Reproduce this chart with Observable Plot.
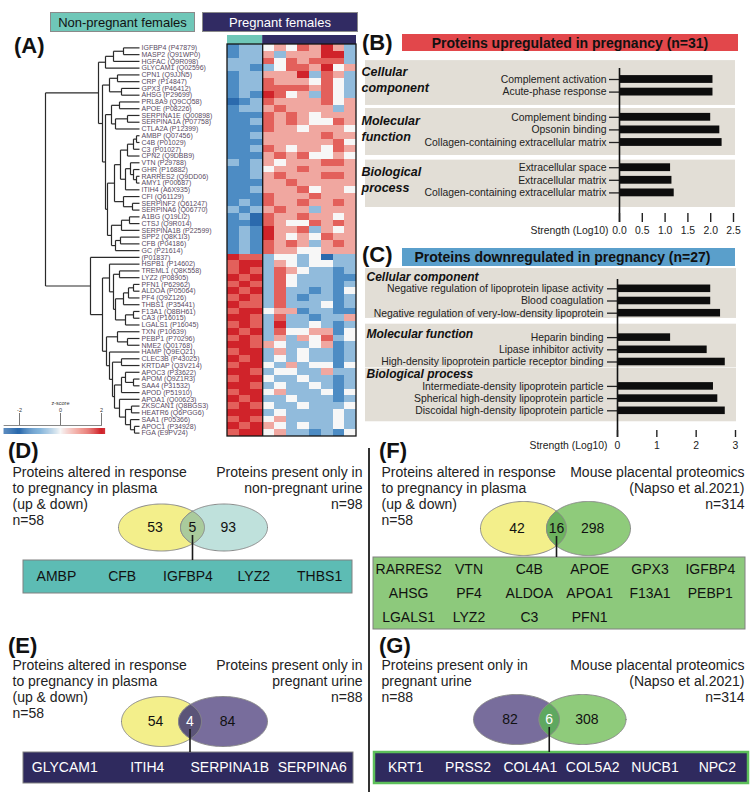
<!DOCTYPE html>
<html><head><meta charset="utf-8">
<script src="https://cdn.jsdelivr.net/npm/d3@7"></script>
<script src="https://cdn.jsdelivr.net/npm/@observablehq/plot@0.6"></script>
<style>
body{margin:0;background:#fff;font-family:'Liberation Sans',Arial,Helvetica,sans-serif;}
#fig{position:relative;width:756px;height:796px;overflow:hidden;background:#fff;}
#fig svg{max-width:none;}
</style></head>
<body><div id="fig"></div>
<script>
// ---------------- DATA ----------------
const sampleGroups = ["Non-pregnant females", "Pregnant females"];
const sampleCounts = [3, 8];
const genes = ["IGFBP4","MASP2","HGFAC","GLYCAM1","CPN1","CRP","GPX3","AHSG","PRL8A9","APOE","SERPINA1E","SERPINA1A","CTLA2A","AMBP","C4B","C3","CPN2","VTN","GHR","RARRES2","AMY1","ITIH4","CFI","SERPINF2","SERPINA6","A1BG","CTSJ","SERPINA1B","SPP2","CFB","GC","","HSPB1","TREML1","LYZ2","PFN1","ALDOA","PF4","THBS1","F13A1","CA3","LGALS1","TXN","PEBP1","NME2","HAMP","CLEC3B","KRTDAP","APOC3","APOM","SAA4","APOD","APOA1","ZKSCAN1","HEATR6","SAA1","APOC1","FGA"];
const accessions = ["P47879","Q91WP0","Q9R098","Q02596","Q9JJN5","P14847","P46412","P29699","Q9CQ58","P08226","Q00898","P07758","P12399","Q07456","P01029","P01027","Q9DBB9","P29788","P16882","Q9DD06","P00687","A6X935","Q61129","Q61247","Q06770","Q19LI2","Q9R014","P22599","Q8K1I3","P04186","P21614","P01837","P14602","Q8K558","P08905","P62962","P05064","Q9Z126","P35441","Q8BH61","P16015","P16045","P10639","P70296","Q01768","Q9EQ21","P43025","Q3V214","P33622","Q9Z1R3","P31532","P51910","Q00623","Q8BGS3","Q6PGG6","P05366","P34928","E9PV24"];
// z-score levels per row: 0 = -2 ... 3 = 0 ... 6 = +2 (3 non-pregnant + 8 pregnant columns)
const heatRows = [
"12234354642","12242444662","22253545552","22123554634","12244462542","12254443532","12255554532","12165342532",
"01254444534","12245444424","11154543444","11254543354","11154434443","11244444544","11144444453","11254344354",
"11145453343","21243444554","11234454444","11245444554","11144544444","11244453443","11154445444","12154454454",
"21245442444","12054454434","11054335454","12164452434","12164343544","12154542454","12154433444",
"65523323022","56624323322","56525432212","65625322211","56525322212","65625221213","56525212212","65525222312",
"56634412211","66525221224","56526223212","65625334413","56524243523","66543223412","56624232212","65623232212",
"56632423313","66523322422","56632232212","66523223212","56634222313","65622322212","56532232223","66623222232",
"56534222232","65643232232","56634221213"];
const tree =
[94,
  [41,
    [34, [26, [16, "IGFBP4", "MASP2"], "HGFAC"], "GLYCAM1"],
    [37,
      [30, [22, "CPN1", "CRP"], [18, "GPX3", "AHSG"]],
      [34,
        [28, [20, "PRL8A9", "APOE"], [24, [12, "SERPINA1E", "SERPINA1A"], "CTLA2A"]],
        [32,
          [25,
            [19,
              [12, [6, [3, "AMBP", "C4B"], "C3"], "CPN2"],
              [14, [9, "VTN", [6, "GHR", [3, "RARRES2", "AMY1"]]], "ITIH4"]
            ],
            [16, "CFI", [7, "SERPINF2", "SERPINA6"]]
          ],
          [28, [18, [10, "A1BG", "CTSJ"], "SERPINA1B"], [24, [19, "SPP2", "CFB"], "GC"]]
        ]
      ]
    ]
  ],
  [49, "P01837",
    [37,
      [30, "HSPB1", [26, [20, "TREML1", "LYZ2"], [24, [16, [11, [6, "PFN1", "ALDOA"], "PF4"], "THBS1"], [14, [6, "F13A1", "CA3"], "LGALS1"]]]],
      [33,
        [22, "TXN", [12, "PEBP1", "NME2"]],
        [30, "HAMP", [27, [18, "CLEC3B", "KRTDAP"], [25, [18, [14, "APOC3", [6, "APOM", "SAA4"]], "APOD"], [20, "APOA1", [14, [8, "ZKSCAN1", "HEATR6"], [9, "SAA1", [5, "APOC1", "FGA"]]]]]]]
      ]
    ]
  ]
];
const legendTicks = [-2, 0, 2];

const upTitle = "Proteins upregulated in pregnancy  (n=31)";
const upGroups = ["Cellular\ncomponent", "Molecular\nfunction", "Biological\nprocess"];
const upTerms = ["Complement activation","Acute-phase response","Complement binding","Opsonin binding","Collagen-containing extracellular matrix","Extracellular space","Extracellular matrix","Collagen-containing extracellular matrix"];
const upGroupOf = [0,0,1,1,1,2,2,2];
const upStrength = [2.05,2.05,2.0,2.2,2.25,1.12,1.15,1.2];
const upTicks = [0,0.5,1,1.5,2,2.5];

const downTitle = "Proteins downregulated in pregnancy  (n=27)";
const downGroups = ["Cellular component", "Molecular function", "Biological process"];
const downTerms = ["Negative regulation of lipoprotein lipase activity","Blood coagulation","Negative regulation of very-low-density lipoprotein","Heparin binding","Lipase inhibitor activity","High-density lipoprotein particle receptor binding","Intermediate-density lipoprotein particle","Spherical high-density lipoprotein particle","Discoidal high-density lipoprotein particle"];
const downGroupOf = [0,0,0,1,1,1,2,2,2];
const downStrength = [2.37,2.37,2.62,1.35,2.28,2.74,2.44,2.55,2.74];
const downTicks = [0,1,2,3];
const axisTitle = "Strength (Log10)";

const plasmaLabel = ["Proteins altered in response","to pregnancy in plasma","(up & down)","n=58"];
const nonPregUrineLabel = ["Proteins present only in","non-pregnant urine","n=98"];
const pregUrineLabel = ["Proteins present only in","pregnant urine","n=88"];
const placentaLabel = ["Mouse placental proteomics","(Napso et al.2021)","n=314"];
const countsD = [53, 5, 93];
const countsE = [54, 4, 84];
const countsF = [42, 16, 298];
const countsG = [82, 6, 308];
const membersD = ["AMBP","CFB","IGFBP4","LYZ2","THBS1"];
const membersE = ["GLYCAM1","ITIH4","SERPINA1B","SERPINA6"];
const membersF = ["RARRES2","VTN","C4B","APOE","GPX3","IGFBP4","AHSG","PF4","ALDOA","APOA1","F13A1","PEBP1","LGALS1","LYZ2","C3","PFN1"];
const membersG = ["KRT1","PRSS2","COL4A1","COL5A2","NUCB1","NPC2"];

// ---------------- HELPERS ----------------
const FONT = "'Liberation Sans', Arial, Helvetica, sans-serif";
const fig = document.getElementById("fig");
function place(node, left, top) {
  node.style.position = "absolute"; node.style.left = left + "px"; node.style.top = top + "px";
  node.style.background = "transparent"; node.style.overflow = "visible";
  fig.appendChild(node); return node;
}
function box(text, css) {
  const d = document.createElement("div"); d.textContent = text;
  d.style.cssText = "position:absolute;display:flex;align-items:center;justify-content:center;box-sizing:border-box;white-space:nowrap;" + css;
  fig.appendChild(d); return d;
}
const baseStyle = {fontFamily: FONT, background: "transparent", overflow: "visible"};
const heatColor = {type: "linear", domain: [-2, -1, 0, 1, 2], range: ["#2b6aad", "#5e9dcf", "#f7f7f7", "#ec7f74", "#d0232a"], interpolate: "rgb"};

// ---------------- TOP LEGEND + PANEL LABELS ----------------
box(sampleGroups[0], "left:50px;top:12px;width:145px;height:20px;background:#6fc7b8;border:1px solid #8a8a8a;font-size:13px;color:#111;");
box(sampleGroups[1], "left:202px;top:12px;width:156px;height:20px;background:#312b63;border:1px solid #8a8a8a;font-size:13px;color:#fff;");
[["(A)",14,35],["(B)",362,32],["(C)",362,244],["(D)",8,440],["(E)",8,635],["(F)",379,440],["(G)",379,635]].forEach(([t,l,tp]) =>
  box(t, `left:${l}px;top:${tp}px;font-size:22px;font-weight:bold;color:#111;line-height:22px;justify-content:flex-start;`));
box("", "left:368px;top:448px;width:1.6px;height:344px;background:#333;");

// ---------------- PANEL A ----------------
const rows = genes.map((g, i) => ({row: i, key: g || accessions[i], label: g ? `${g} (${accessions[i]})` : `(${accessions[i]})`}));
const rowOf = new Map(rows.map(r => [r.key, r.row]));
const segs = [];
function walk(node) {
  if (typeof node === "string") return {y: rowOf.get(node) + 0.5, h: 0};
  const [h, a, b] = node;
  const A = walk(a), B = walk(b);
  segs.push({x1: h, y1: A.y, x2: h, y2: B.y});
  segs.push({x1: h, y1: A.y, x2: A.h, y2: A.y});
  segs.push({x1: h, y1: B.y, x2: B.h, y2: B.y});
  return {y: (A.y + B.y) / 2, h};
}
walk(tree);
const nRows = rows.length, nCols = d3.sum(sampleCounts);
const heatTop = 35, heatHeaderPx = 9, heatH = 401;
const rowPx = (heatH - heatHeaderPx) / nRows;

place(Plot.plot({
  width: 227, height: heatH, margin: 0, style: baseStyle,
  x: {domain: [94, 0], range: [45, 139], axis: null},
  y: {domain: [0, nRows], range: [heatHeaderPx, heatH], axis: null},
  marks: [
    Plot.link(segs, {x1: "x1", y1: "y1", x2: "x2", y2: "y2", stroke: "#2a2a2a", strokeWidth: 1.2}),
    Plot.text(rows, {x: 0, y: d => d.row + 0.5, text: "label", textAnchor: "start", dx: 2, fontSize: 7, fill: "#5a4b63"})
  ]
}), 0, heatTop);

const cells = [];
heatRows.forEach((s, r) => s.split("").forEach((c, k) => cells.push({row: r, col: k, z: (+c - 3) * 2 / 3})));
place(Plot.plot({
  width: 129, height: heatH, margin: 0, style: baseStyle,
  x: {domain: [0, nCols], range: [0, 129], axis: null},
  y: {domain: [0, nRows], range: [heatHeaderPx, heatH], axis: null},
  color: heatColor,
  marks: [
    Plot.rect([0], {x1: 0, x2: sampleCounts[0], y1: -heatHeaderPx / rowPx, y2: 0, fill: "#6fc7b8"}),
    Plot.rect([0], {x1: sampleCounts[0], x2: nCols, y1: -heatHeaderPx / rowPx, y2: 0, fill: "#312b63"}),
    Plot.rect(cells, {x1: "col", x2: d => d.col + 1, y1: "row", y2: d => d.row + 1, fill: "z", shapeRendering: "crispEdges"}),
    Plot.rect([0], {x1: 0, x2: nCols, y1: 0, y2: nRows, fill: "none", stroke: "#151515", strokeWidth: 1.3}),
    Plot.ruleX([sampleCounts[0]], {y1: 0, y2: nRows, stroke: "#151515", strokeWidth: 1.3})
  ]
}), 227, heatTop);

// z-score legend
place(Plot.plot({
  width: 112, height: 44, margin: 0, style: baseStyle,
  x: {domain: [-2, 2], range: [19, 101], axis: null},
  y: {domain: [0, 44], range: [0, 44], axis: null},
  color: heatColor,
  marks: [
    Plot.rect(d3.range(-2.75, 2.2, 0.05), {x1: d => d, x2: d => d + 0.051, y1: 30, y2: 36, fill: d => Math.max(-2, Math.min(2, d))}),
    Plot.ruleY([27], {x1: -2.75, x2: 2.05, stroke: "#555", strokeWidth: 0.7}),
    Plot.ruleX(legendTicks, {y1: 15, y2: 27, stroke: "#555", strokeWidth: 0.8}),
    Plot.text(legendTicks, {x: d => d, y: 12, text: d => d, fontSize: 5.5, fill: "#333"}),
    Plot.text(["z-score"], {x: 0, y: 5, text: d => d, fontSize: 5.5, fill: "#333"})
  ]
}), 0, 398);

// ---------------- PANELS B & C ----------------
function barPanel(terms, values, groupOf, groupNames, ticks, fmt, L) {
  const data = terms.map((t, i) => ({term: t, value: values[i], g: groupOf[i], pos: i + groupOf[i]}));
  const yPos = page => (page - L.pos0Page) / L.unit;
  const xVal = page => (page - L.xZeroPage) / L.pxPerUnit;
  const bands = groupNames.map((name, g) => {
    const ps = data.filter(d => d.g === g).map(d => d.pos);
    const y1 = d3.min(ps) - L.padTop[g];
    return {name, y1, y2: d3.max(ps) + L.padBottom[g], ty: y1 + L.catDy[g] / L.unit};
  });
  const frameBottomLocal = L.frameBottomPage - L.top;
  const svg = Plot.plot({
    width: L.width, height: L.height,
    marginLeft: L.xZeroPage - L.left, marginRight: L.left + L.width - L.xMaxPage,
    marginTop: 0, marginBottom: L.height - frameBottomLocal,
    style: {...baseStyle, fontSize: "10.4px"},
    x: {domain: [0, L.xMax], range: [L.xZeroPage - L.left, L.xMaxPage - L.left], axis: null},
    y: {domain: [0, 10], range: [L.pos0Page - L.top, L.pos0Page - L.top + 10 * L.unit], axis: null},
    marks: [
      Plot.rect(bands, {x1: xVal(L.bandLeftPage), x2: xVal(L.bandRightPage), y1: "y1", y2: "y2", fill: "#e2ded6"}),
      Plot.text(bands, {x: xVal(L.catLeftPage), y: "ty", text: "name", textAnchor: "start", lineAnchor: "top",
        fontSize: L.catFont, fontWeight: "bold", fontStyle: "italic", lineHeight: 16 / L.catFont, fill: "#111"}),
      Plot.rect(data, {x1: 0, x2: "value", y1: d => d.pos - 0.31, y2: d => d.pos + 0.31, fill: "#0d0d0d"}),
      Plot.ruleY(data, {y: "pos", x1: xVal(L.termTickPage), x2: 0, stroke: "#222", strokeWidth: 1.3}),
      Plot.text(data, {x: 0, y: "pos", text: "term", textAnchor: "end", dx: -L.termDx, fontSize: 10.4, fill: "#222"}),
      Plot.ruleX([0], {y1: yPos(L.axisTopPage), y2: yPos(L.frameBottomPage + L.tickSize), stroke: "#111", strokeWidth: 1.6}),
      Plot.axisX({ticks, tickFormat: fmt, tickSize: L.tickSize, tickPadding: L.tickPadding, label: null, fontSize: 10.4, strokeWidth: 1.4, stroke: "#222", fill: "#222"}),
      Plot.text([axisTitle], {x: 0, frameAnchor: "bottom", text: d => d, textAnchor: "end", lineAnchor: "top",
        dx: -L.axisTitleDx, dy: L.tickSize + L.tickPadding, fontSize: 10.4, fill: "#222"})
    ]
  });
  place(svg, L.left, L.top);
}

box(upTitle, "left:402px;top:34px;width:336px;height:17px;background:#e2474b;font-size:14px;font-weight:bold;color:#111;");
barPanel(upTerms, upStrength, upGroupOf, upGroups, upTicks, ".1f", {
  left: 355, top: 52, width: 401, height: 192,
  xZeroPage: 619, xMaxPage: 733, xMax: 2.5, pxPerUnit: (733 - 619) / 2.5,
  pos0Page: 79, unit: 12.6, frameBottomPage: 213, tickSize: 9, tickPadding: 4, axisTopPage: 68,
  bandLeftPage: 365, bandRightPage: 735, padTop: [1.5, 0.7, 0.6], padBottom: [1.06, 1.03, 1.16],
  catLeftPage: 361, catFont: 12.5, catDy: [4, 5, 5], termTickPage: 609, termDx: 13, axisTitleDx: 11
});

box(downTitle, "left:402px;top:248px;width:333px;height:18px;background:#5a9fcb;font-size:14px;font-weight:bold;color:#111;padding-right:12px;");
barPanel(downTerms, downStrength, downGroupOf, downGroups, downTicks, "d", {
  left: 355, top: 266, width: 401, height: 192,
  xZeroPage: 617, xMaxPage: 735, xMax: 3, pxPerUnit: (735 - 617) / 3,
  pos0Page: 288.3, unit: 12.2, frameBottomPage: 430, tickSize: 7, tickPadding: 4, axisTopPage: 279,
  bandLeftPage: 365, bandRightPage: 736, padTop: [1.66, 1.1, 1.5], padBottom: [0.43, 0.45, 0.9],
  catLeftPage: 366, catFont: 12, catDy: [1, 2, -1.5], termTickPage: 607, termDx: 14, axisTitleDx: 10
});

// ---------------- VENN PANELS D-G ----------------
function vennPanel(cfg) {
  const g = cfg.geom;
  const ell = (e, t0) => d3.range(241).map(i => {
    const t = t0 + 2 * Math.PI * i / 240;
    return {x: e.cx + e.rx * Math.cos(t), y: e.cy + e.ry * Math.sin(t)};
  });
  const inside = (p, e) => ((p.x - e.cx) / e.rx) ** 2 + ((p.y - e.cy) / e.ry) ** 2 <= 1;
  const A = ell(g.A, -Math.PI), B = ell(g.B, 0);
  const lens = [...A.filter(p => inside(p, g.B)), ...B.filter(p => inside(p, g.A))];
  const lensX = ((g.B.cx - g.B.rx) + (g.A.cx + g.A.rx)) / 2;
  const counts = [
    {x: g.A.cx - 0.15 * g.A.rx, v: cfg.counts[0], c: cfg.countFill[0]},
    {x: lensX, v: cfg.counts[1], c: cfg.countFill[1]},
    {x: g.B.cx + 0.1 * g.B.rx, v: cfg.counts[2], c: cfg.countFill[2]}
  ];
  const nrow = Math.ceil(cfg.members.length / cfg.cols);
  const pad = cfg.pad || 0;
  const bw = g.box.x2 - g.box.x1 - 2 * pad, bh = g.box.y2 - g.box.y1;
  const mem = cfg.members.map((m, i) => ({m,
    x: g.box.x1 + pad + (i % cfg.cols + 0.5) * bw / cfg.cols,
    y: g.box.y1 + (Math.floor(i / cfg.cols) + 0.5) * bh / nrow}));
  const svg = Plot.plot({
    width: cfg.width, height: cfg.height, margin: 0, style: baseStyle,
    x: {domain: [0, cfg.width], range: [0, cfg.width], axis: null},
    y: {domain: [0, cfg.height], range: [0, cfg.height], axis: null},
    marks: [
      Plot.text([cfg.leftLines.join("\n")], {x: g.leftX, y: g.textTop, text: d => d, textAnchor: "start", lineAnchor: "top", fontSize: 14, lineHeight: 16 / 14, fill: "#222"}),
      Plot.text([cfg.rightLines.join("\n")], {x: g.rightX, y: g.textTop, text: d => d, textAnchor: "end", lineAnchor: "top", fontSize: 14, lineHeight: 16 / 14, fill: "#222"}),
      Plot.line(A, {x: "x", y: "y", fill: cfg.colA, stroke: "#8a8a8a", strokeWidth: 1, curve: "linear-closed"}),
      Plot.line(B, {x: "x", y: "y", fill: cfg.colB, stroke: "#8a8a8a", strokeWidth: 1, curve: "linear-closed"}),
      Plot.line(lens, {x: "x", y: "y", fill: cfg.colAB, stroke: "#8a8a8a", strokeWidth: 1, curve: "linear-closed"}),
      Plot.rect([g.box], {x1: "x1", x2: "x2", y1: "y1", y2: "y2", fill: cfg.boxFill, stroke: cfg.boxStroke, strokeWidth: cfg.boxStrokeWidth}),
      Plot.ruleX([lensX], {y1: g.A.cy + 8, y2: g.box.y1, stroke: "#1a1a1a", strokeWidth: 1.6}),
      Plot.text(counts, {x: "x", y: g.A.cy, text: "v", fill: "c", fontSize: 14}),
      Plot.text(mem, {x: "x", y: "y", text: "m", fill: cfg.memberFill, fontSize: 14})
    ]
  });
  place(svg, cfg.left, cfg.top);
}
const yellow = "#f3ef8b", purple = "#786d9c", green = "#8fcb7b", navy = "#2f2a5e";
vennPanel({left: 0, top: 462, width: 368, height: 140, leftLines: plasmaLabel, rightLines: nonPregUrineLabel,
  counts: countsD, countFill: ["#111", "#111", "#111"], members: membersD, cols: 5,
  colA: yellow, colB: "#bfe1dc", colAB: "#aacb9c", boxFill: "#5dbcb4", boxStroke: "#808080", boxStrokeWidth: 1, memberFill: "#111",
  geom: {leftX: 12, rightX: 362, textTop: 3, A: {cx: 161, cy: 65, rx: 43, ry: 23.5}, B: {cx: 223.5, cy: 65, rx: 43.5, ry: 23.5}, box: {x1: 23, x2: 352, y1: 98, y2: 131}}});
vennPanel({left: 0, top: 655, width: 368, height: 141, leftLines: plasmaLabel, rightLines: pregUrineLabel,
  counts: countsE, countFill: ["#111", "#fff", "#111"], members: membersE, cols: 4,
  colA: yellow, colB: purple, colAB: "#5b5478", boxFill: navy, boxStroke: "#808080", boxStrokeWidth: 1, memberFill: "#fff",
  geom: {leftX: 12, rightX: 362, textTop: 3, A: {cx: 161, cy: 66, rx: 40, ry: 25}, B: {cx: 222.5, cy: 66, rx: 44.5, ry: 25}, box: {x1: 23, x2: 353, y1: 97, y2: 128}}});
vennPanel({left: 370, top: 462, width: 386, height: 172, leftLines: plasmaLabel, rightLines: placentaLabel,
  counts: countsF, countFill: ["#111", "#111", "#111"], members: membersF, cols: 6, pad: 5,
  colA: yellow, colB: green, colAB: "#6db35e", boxFill: "#8dc97c", boxStroke: "#808080", boxStrokeWidth: 1, memberFill: "#111",
  geom: {leftX: 11, rightX: 374, textTop: 3, A: {cx: 153, cy: 66, rx: 43, ry: 27}, B: {cx: 218, cy: 66, rx: 42, ry: 27}, box: {x1: 3, x2: 375, y1: 95, y2: 167}}});
vennPanel({left: 370, top: 655, width: 386, height: 141, leftLines: pregUrineLabel, rightLines: placentaLabel,
  counts: countsG, countFill: ["#111", "#fff", "#111"], members: membersG, cols: 6,
  colA: purple, colB: green, colAB: "#5fa860", boxFill: navy, boxStroke: "#5cbf5a", boxStrokeWidth: 2.5, memberFill: "#fff",
  geom: {leftX: 11, rightX: 374, textTop: 3, A: {cx: 146, cy: 64, rx: 43, ry: 25}, B: {cx: 212, cy: 64, rx: 43.5, ry: 25}, box: {x1: 4, x2: 378, y1: 97, y2: 128}}});
</script>
</body></html>
